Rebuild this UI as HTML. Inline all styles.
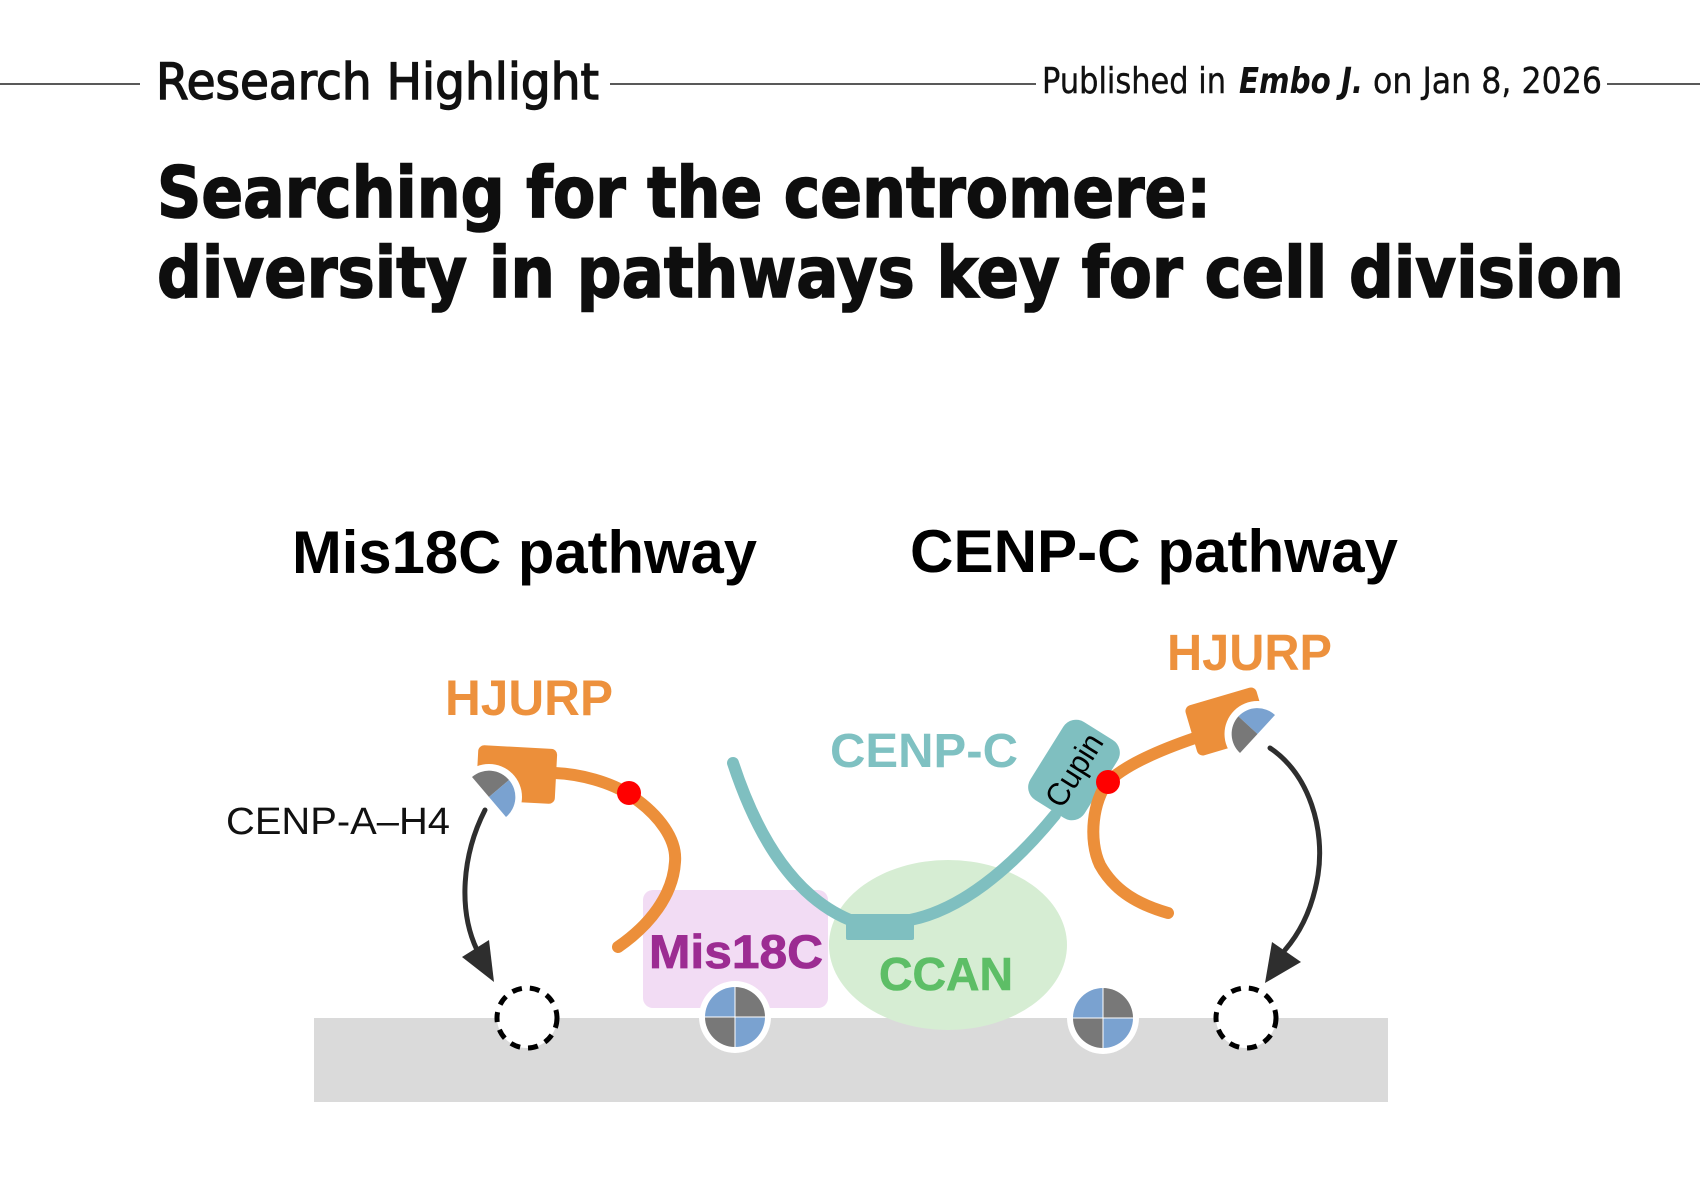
<!DOCTYPE html>
<html>
<head>
<meta charset="utf-8">
<style>
  html, body { margin: 0; padding: 0; background: #ffffff; }
  svg { display: block; }
</style>
</head>
<body>
<svg width="1700" height="1202" viewBox="0 0 1700 1202" xmlns="http://www.w3.org/2000/svg">
  <rect x="0" y="0" width="1700" height="1202" fill="#ffffff"/>

  <!-- Header rule -->
  <g stroke="#222" stroke-width="1.5">
    <line x1="0" y1="84" x2="140" y2="84"/>
    <line x1="610" y1="84" x2="1036" y2="84"/>
    <line x1="1607" y1="84" x2="1700" y2="84"/>
  </g>
  <text x="156" y="99" font-family="DejaVu Sans, Liberation Sans, sans-serif" font-size="50" fill="#111" stroke="#111" stroke-width="1.4" textLength="443" lengthAdjust="spacingAndGlyphs">Research Highlight</text>
  <text x="1042" y="93" font-family="DejaVu Sans, Liberation Sans, sans-serif" font-size="36" fill="#111" stroke="#111" stroke-width="0.4" textLength="184" lengthAdjust="spacingAndGlyphs">Published in</text>
  <text x="1239" y="93" font-family="DejaVu Sans, Liberation Sans, sans-serif" font-size="36" font-weight="bold" font-style="italic" fill="#111" textLength="124" lengthAdjust="spacingAndGlyphs">Embo J.</text>
  <text x="1373" y="93" font-family="DejaVu Sans, Liberation Sans, sans-serif" font-size="36" fill="#111" stroke="#111" stroke-width="0.4" textLength="229" lengthAdjust="spacingAndGlyphs">on Jan 8, 2026</text>

  <!-- Title -->
  <text x="157" y="217" font-family="DejaVu Sans, Liberation Sans, sans-serif" font-size="70" font-weight="bold" fill="#0e0e0e" stroke="#0e0e0e" stroke-width="1.6" textLength="1054" lengthAdjust="spacingAndGlyphs">Searching for the centromere:</text>
  <text x="157" y="297" font-family="DejaVu Sans, Liberation Sans, sans-serif" font-size="70" font-weight="bold" fill="#0e0e0e" stroke="#0e0e0e" stroke-width="1.6" textLength="1467" lengthAdjust="spacingAndGlyphs">diversity in pathways key for cell division</text>

  <!-- Diagram headings -->
  <text x="292" y="573" font-family="Liberation Sans, Arial, sans-serif" font-size="60" font-weight="bold" fill="#000" textLength="465" lengthAdjust="spacingAndGlyphs">Mis18C pathway</text>
  <text x="910" y="572" font-family="Liberation Sans, Arial, sans-serif" font-size="60" font-weight="bold" fill="#000" textLength="488" lengthAdjust="spacingAndGlyphs">CENP-C pathway</text>

  <!-- Gray chromatin bar -->
  <rect x="314" y="1018" width="1074" height="84" fill="#dadada"/>

  <!-- Mis18C box -->
  <rect x="643" y="890" width="185" height="118" rx="10" ry="10" fill="#f2dcf4"/>
  <!-- CCAN ellipse -->
  <ellipse cx="948" cy="945" rx="119" ry="85" fill="#d6edd3"/>

  <text x="649" y="968" font-family="Liberation Sans, Arial, sans-serif" font-size="47" font-weight="bold" fill="#9c2c92" stroke="#9c2c92" stroke-width="0.8" textLength="174" lengthAdjust="spacingAndGlyphs">Mis18C</text>
  <text x="879" y="990" font-family="Liberation Sans, Arial, sans-serif" font-size="46" font-weight="bold" fill="#5dbe66" stroke="#5dbe66" stroke-width="0.6" textLength="134" lengthAdjust="spacingAndGlyphs">CCAN</text>

  <!-- CENP-C teal line -->
  <path d="M733,763 C 755,830 790,895 850,920 L 910,920 C 960,910 1010,870 1055,815" fill="none" stroke="#7fbfc0" stroke-width="12" stroke-linecap="round"/>
  <rect x="846" y="914" width="68" height="26" rx="2" fill="#7fbfc0"/>

  <!-- Cupin -->
  <g transform="translate(1074,770) rotate(-58)">
    <rect x="-46" y="-32" width="92" height="64" rx="15" ry="15" fill="#7fbfc0"/>
    <text x="0" y="11" text-anchor="middle" font-family="Liberation Sans, Arial, sans-serif" font-size="32" fill="#000" textLength="80" lengthAdjust="spacingAndGlyphs">Cupin</text>
  </g>

  <text x="830" y="767" font-family="Liberation Sans, Arial, sans-serif" font-size="48" font-weight="bold" fill="#7fc1c2" textLength="188" lengthAdjust="spacingAndGlyphs">CENP-C</text>

  <!-- Orange HJURP lines -->
  <path d="M555,773 C 580,774 610,782 630,795 C 660,815 677,840 675,862 C 673,895 650,925 618,947" fill="none" stroke="#ec8f3a" stroke-width="12" stroke-linecap="round"/>
  <path d="M1195,738 C 1160,750 1125,765 1108,782 C 1093,800 1088,840 1100,865 C 1115,892 1140,905 1168,913" fill="none" stroke="#ec8f3a" stroke-width="12" stroke-linecap="round"/>

  <!-- Left HJURP block + CENP-A/H4 -->
  <rect x="477" y="747" width="79" height="55" rx="6" ry="6" fill="#ec8f3a" transform="rotate(3 516 775)"/>
  <circle cx="489" cy="797" r="33" fill="#ffffff"/>
  <path d="M489,797 L472,777 A26,26 0 0 1 509,780 Z" fill="#787878"/>
  <path d="M489,797 L509,780 A26,26 0 0 1 506,817 Z" fill="#7aa2d0"/>

  <!-- Right HJURP block + CENP-A/H4 -->
  <g transform="translate(1184,707) rotate(-16.4)">
    <rect x="0" y="0" width="74" height="52" rx="6" ry="6" fill="#ec8f3a"/>
  </g>
  <circle cx="1257.5" cy="734" r="33" fill="#ffffff"/>
  <path d="M1257.5,734 L1238.4,716.4 A26,26 0 0 1 1275,715 Z" fill="#7aa2d0"/>
  <path d="M1257.5,734 L1240,753 A26,26 0 0 1 1238.4,716.4 Z" fill="#787878"/>

  <!-- Red dots -->
  <circle cx="629" cy="793" r="12" fill="#ff0000"/>
  <circle cx="1108" cy="782" r="12" fill="#ff0000"/>

  <!-- Black arrows -->
  <path d="M485,810 C 462,855 458,910 477,950" fill="none" stroke="#2e2e2e" stroke-width="5" stroke-linecap="round"/>
  <polygon points="494,982 462,957 489,940" fill="#2e2e2e"/>
  <path d="M1270,748 C 1310,775 1325,830 1318,875 C 1312,912 1298,935 1285,950" fill="none" stroke="#2e2e2e" stroke-width="5" stroke-linecap="round"/>
  <polygon points="1265,983 1272,942 1301,962" fill="#2e2e2e"/>

  <!-- Dashed empty sites -->
  <circle cx="527" cy="1018" r="30" fill="#ffffff" stroke="#000" stroke-width="5" stroke-dasharray="10 8"/>
  <circle cx="1246" cy="1018" r="30" fill="#ffffff" stroke="#000" stroke-width="5" stroke-dasharray="10 8"/>

  <!-- Nucleosomes on chromatin -->
  <g>
    <circle cx="735" cy="1017" r="36" fill="#ffffff"/>
    <path d="M735,1017 L705,1017 A30,30 0 0 1 735,987 Z" fill="#7aa2d0"/>
    <path d="M735,1017 L735,987 A30,30 0 0 1 765,1017 Z" fill="#787878"/>
    <path d="M735,1017 L765,1017 A30,30 0 0 1 735,1047 Z" fill="#7aa2d0"/>
    <path d="M735,1017 L735,1047 A30,30 0 0 1 705,1017 Z" fill="#787878"/>
    <line x1="705" y1="1017" x2="765" y2="1017" stroke="#ffffff" stroke-width="1"/>
    <line x1="735" y1="987" x2="735" y2="1047" stroke="#ffffff" stroke-width="1"/>
  </g>
  <g>
    <circle cx="1103" cy="1018" r="36" fill="#ffffff"/>
    <path d="M1103,1018 L1073,1018 A30,30 0 0 1 1103,988 Z" fill="#7aa2d0"/>
    <path d="M1103,1018 L1103,988 A30,30 0 0 1 1133,1018 Z" fill="#787878"/>
    <path d="M1103,1018 L1133,1018 A30,30 0 0 1 1103,1048 Z" fill="#7aa2d0"/>
    <path d="M1103,1018 L1103,1048 A30,30 0 0 1 1073,1018 Z" fill="#787878"/>
    <line x1="1073" y1="1018" x2="1133" y2="1018" stroke="#ffffff" stroke-width="1"/>
    <line x1="1103" y1="988" x2="1103" y2="1048" stroke="#ffffff" stroke-width="1"/>
  </g>

  <!-- Labels -->
  <text x="445" y="715" font-family="Liberation Sans, Arial, sans-serif" font-size="50" font-weight="bold" fill="#ed913d" textLength="168" lengthAdjust="spacingAndGlyphs">HJURP</text>
  <text x="1167" y="670" font-family="Liberation Sans, Arial, sans-serif" font-size="51" font-weight="bold" fill="#ed913d" textLength="165" lengthAdjust="spacingAndGlyphs">HJURP</text>
  <text x="226" y="834" font-family="Liberation Sans, Arial, sans-serif" font-size="38" fill="#111" textLength="224" lengthAdjust="spacingAndGlyphs">CENP-A–H4</text>
</svg>
</body>
</html>
